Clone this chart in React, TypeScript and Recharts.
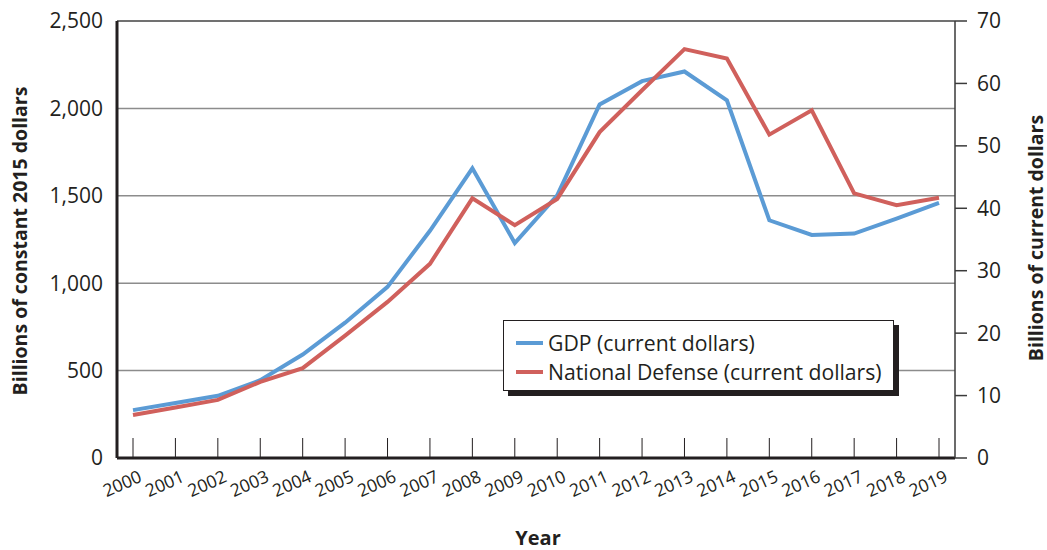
import React from 'react';
import { LineChart, Line, XAxis, YAxis, CartesianGrid, Legend, ReferenceLine, Label } from 'recharts';

const years = ['2000', '2001', '2002', '2003', '2004', '2005', '2006', '2007', '2008', '2009', '2010', '2011', '2012', '2013', '2014', '2015', '2016', '2017', '2018', '2019'];
const gdpValues = [274, 315, 356, 445, 592, 774, 979, 1300, 1657, 1230, 1503, 2023, 2156, 2211, 2046, 1360, 1276, 1284, 1370, 1459];
const defenseValues = [6.9, 8.1, 9.3, 12.2, 14.4, 19.6, 25.0, 31.1, 41.6, 37.3, 41.5, 52.2, 58.9, 65.5, 64.0, 51.8, 55.7, 42.4, 40.5, 41.7];
const leftTicks = [0, 500, 1000, 1500, 2000, 2500];
const rightTicks = [0, 10, 20, 30, 40, 50, 60, 70];
const seriesNames = ['GDP (current dollars)', 'National Defense (current dollars)'];
const leftTitle = 'Billions of constant 2015 dollars';
const rightTitle = 'Billions of current dollars';
const xTitle = 'Year';

const data = years.map((y, i) => ({ year: y, gdp: gdpValues[i], defense: defenseValues[i] }));

const FONT = '"Open Sans", sans-serif';
const INK = '#231f20';
const BLUE = '#5b9bd5';
const RED = '#d0605c';

const fmt = (v: number) => v.toLocaleString('en-US');

function XTick(props: any) {
  const { x, y, payload } = props;
  const tx = x + 10;
  const ty = y + 23;
  return (
    <g>
      <line x1={x} x2={x} y1={y - 20} y2={y} stroke={INK} strokeWidth={1} />
      <text x={tx} y={ty} textAnchor="end" transform={`rotate(-24, ${tx}, ${ty})`} fontSize={17.5} fill={INK} fontFamily={FONT}>
        {payload.value}
      </text>
    </g>
  );
}

function LegendBox() {
  const rows = [
    { name: seriesNames[0], color: BLUE },
    { name: seriesNames[1], color: RED },
  ];
  return (
    <div style={{ position: 'relative', width: 397, height: 77, fontFamily: FONT }}>
      <div style={{ position: 'absolute', left: 5, top: 5, width: 391, height: 71, background: INK }} />
      <div
        style={{
          position: 'absolute',
          left: 0,
          top: 0,
          width: 391,
          height: 71,
          boxSizing: 'border-box',
          border: `1.5px solid ${INK}`,
          background: '#fff',
        }}
      >
        {rows.map((r, i) => (
          <div key={r.name} style={{ position: 'absolute', left: 12, top: 9 + i * 29, height: 26, display: 'flex', alignItems: 'center' }}>
            <div style={{ width: 27, height: 4, background: r.color, marginRight: 5 }} />
            <span style={{ fontSize: 21.2, color: INK, whiteSpace: 'nowrap', lineHeight: '26px' }}>{r.name}</span>
          </div>
        ))}
      </div>
    </div>
  );
}

export default function App() {
  return (
    <div style={{ position: 'absolute', left: 0, top: 0, width: 1047, height: 550, background: '#fff' }}>
      <LineChart width={1047} height={550} data={data} margin={{ top: 21, right: 0, bottom: 0, left: 0 }}>
        <CartesianGrid yAxisId="left" vertical={false} stroke="#8c8c8c" strokeWidth={1.5} />
        <XAxis
          dataKey="year"
          interval={0}
          padding={{ left: 16, right: 16 }}
          height={92}
          tickSize={0}
          tickMargin={0}
          tickLine={false}
          axisLine={{ stroke: INK, strokeWidth: 3 }}
          tick={<XTick />}
        >
          <Label
            content={() => (
              <text x={538} y={545} textAnchor="middle" fontSize={20} fontWeight="bold" fill={INK} fontFamily={FONT}>
                {xTitle}
              </text>
            )}
          />
        </XAxis>
        <YAxis
          yAxisId="left"
          orientation="left"
          width={117}
          domain={[0, 2500]}
          ticks={leftTicks}
          interval={0}
          tickFormatter={fmt}
          tickLine={false}
          tickSize={0}
          tickMargin={14}
          axisLine={{ stroke: INK, strokeWidth: 3 }}
          tick={{ fontSize: 21, fill: INK, fontFamily: FONT }}
        >
          <Label
            content={() => (
              <text x={19} y={241} transform="rotate(-90, 19, 241)" textAnchor="middle" dominantBaseline="central" fontSize={19.5} fontWeight="bold" fill={INK} fontFamily={FONT}>
                {leftTitle}
              </text>
            )}
          />
        </YAxis>
        <YAxis
          yAxisId="right"
          orientation="right"
          width={92}
          domain={[0, 70]}
          ticks={rightTicks}
          interval={0}
          tickSize={12}
          tickMargin={10}
          tickLine={{ stroke: '#3a3a3a', strokeWidth: 1.5 }}
          axisLine={{ stroke: '#3a3a3a', strokeWidth: 1.5 }}
          tick={{ fontSize: 21, fill: INK, fontFamily: FONT }}
        >
          <Label
            content={() => (
              <text x={1035} y={238} transform="rotate(-90, 1035, 238)" textAnchor="middle" dominantBaseline="central" fontSize={19.5} fontWeight="bold" fill={INK} fontFamily={FONT}>
                {rightTitle}
              </text>
            )}
          />
        </YAxis>
        <ReferenceLine yAxisId="left" y={2500} stroke="#3a3a3a" strokeWidth={1.2} />
        <Line yAxisId="left" type="linear" dataKey="gdp" name={seriesNames[0]} stroke={BLUE} strokeWidth={4} dot={false} isAnimationActive={false} />
        <Line yAxisId="right" type="linear" dataKey="defense" name={seriesNames[1]} stroke={RED} strokeWidth={4} dot={false} isAnimationActive={false} />
        <Legend
          layout="horizontal"
          verticalAlign="middle"
          align="center"
          content={() => <LegendBox />}
          wrapperStyle={{ position: 'absolute', left: 503, top: 320, width: 397, height: 77 }}
        />
      </LineChart>
    </div>
  );
}
